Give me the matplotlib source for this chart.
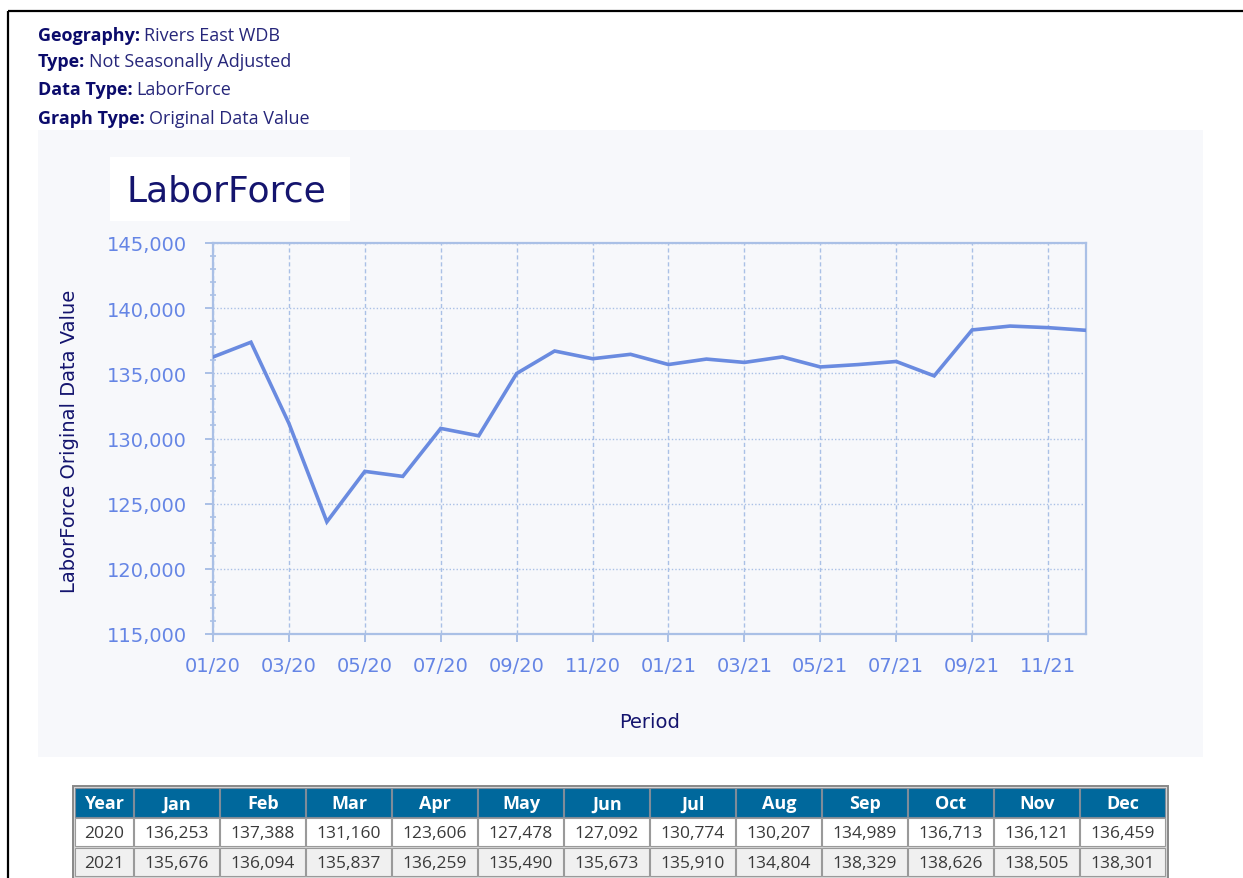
import matplotlib
matplotlib.use("Agg")
import matplotlib.pyplot as plt
from matplotlib.patches import Rectangle
from matplotlib.ticker import MultipleLocator, FuncFormatter

# Header info
header_labels = ["Geography:", "Type:", "Data Type:", "Graph Type:"]
header_values = ["Rivers East WDB", "Not Seasonally Adjusted", "LaborForce", "Original Data Value"]

# Monthly labor force values
months = ["Jan", "Feb", "Mar", "Apr", "May", "Jun", "Jul", "Aug", "Sep", "Oct", "Nov", "Dec"]
years = ["2020", "2021"]
values_2020 = [136253, 137388, 131160, 123606, 127478, 127092, 130774, 130207, 134989, 136713, 136121, 136459]
values_2021 = [135676, 136094, 135837, 136259, 135490, 135673, 135910, 134804, 138329, 138626, 138505, 138301]

W, H = 1243, 879
NAVY = "#14146e"
TICK_BLUE = "#6585e5"
AXIS_BLUE = "#aac0e6"
LINE_BLUE = "#6a8be0"
PANEL_BG = "#f7f8fb"

fig = plt.figure(figsize=(W / 100, H / 100), dpi=100)
fig.patch.set_facecolor("white")

# background axes in pixel coordinates
bg = fig.add_axes([0, 0, 1, 1])
bg.set_xlim(0, W)
bg.set_ylim(H, 0)
bg.axis("off")

# page frame (top and left border)
bg.plot([8, W], [12, 12], color="black", lw=1.6, solid_capstyle="butt")
bg.plot([8, 8], [12, H], color="black", lw=1.6, solid_capstyle="butt")

# header lines: bold label followed by value
fig.canvas.draw()
renderer = fig.canvas.get_renderer()
header_y = [41, 67, 95, 124]
for lab, val, y in zip(header_labels, header_values, header_y):
    t = bg.text(38, y, lab, fontsize=13, fontweight="bold", color="#0b0b6b",
                family="Open Sans", va="baseline", ha="left")
    x_end = t.get_window_extent(renderer=renderer).x1
    bg.text(x_end + 4, y, val, fontsize=13, color="#26267a",
            family="Open Sans", va="baseline", ha="left")

# chart panel background and title box
bg.add_patch(Rectangle((38, 131), 1165, 627, facecolor=PANEL_BG, edgecolor="none"))
bg.add_patch(Rectangle((110, 158), 240, 64, facecolor="white", edgecolor="none"))
bg.text(127, 191, "LaborForce", fontsize=26, color=NAVY, family="DejaVu Sans",
        va="center", ha="left")

# line chart
ax = fig.add_axes([213 / W, 1 - 635 / H, (1086 - 213) / W, (635 - 244) / H])
ax.set_facecolor(PANEL_BG)
series = values_2020 + values_2021
idx = list(range(len(series)))
ax.plot(idx, series, color=LINE_BLUE, lw=2.6, solid_joinstyle="miter", zorder=3)

ax.set_xlim(0, len(series) - 1)
ax.set_ylim(115000, 145000)

tick_labels = [f"{m + 1:02d}/{y[2:]}" for y in years for m in range(12)]
ax.xaxis.set_major_locator(MultipleLocator(2))
ax.xaxis.set_major_formatter(FuncFormatter(
    lambda v, p: tick_labels[int(v)] if 0 <= int(v) < len(tick_labels) else ""))
ax.yaxis.set_major_locator(MultipleLocator(5000))
ax.yaxis.set_minor_locator(MultipleLocator(1000))
ax.yaxis.set_major_formatter(FuncFormatter(lambda v, p: f"{int(v):,}"))

for s in ax.spines.values():
    s.set_color(AXIS_BLUE)
    s.set_linewidth(1.6)

ax.grid(axis="x", which="major", color=AXIS_BLUE, linestyle=(0, (3, 2)), lw=1.0)
ax.grid(axis="y", which="major", color=AXIS_BLUE, linestyle=(0, (1, 1.5)), lw=1.0)

ax.tick_params(axis="both", which="major", colors=AXIS_BLUE, labelcolor=TICK_BLUE,
               labelsize=14, length=6, width=1.4, direction="out")
ax.tick_params(axis="y", which="major", pad=13)
ax.tick_params(axis="x", which="major", pad=10)
ax.tick_params(axis="y", which="minor", colors=AXIS_BLUE, length=4, width=1.2,
               direction="inout")
for lbl in ax.get_xticklabels() + ax.get_yticklabels():
    lbl.set_family("DejaVu Sans")

ax.set_ylabel("LaborForce Original Data Value", fontsize=14, color=NAVY)
ax.yaxis.set_label_coords(-0.154, 0.494)
ax.set_xlabel("Period", fontsize=14, color=NAVY)
ax.xaxis.set_label_coords(0.5006, -0.199)

# data table below chart
tbl_left, year_w, col_w = 75, 59, 86
row_top = [789, 819, 849]
row_h = 29
hdr_color = "#00689c"
row_colors = ["white", "#f0f0f0"]
col_x = [tbl_left] + [tbl_left + year_w + i * col_w for i in range(12)]
col_w_list = [year_w] + [col_w] * 12

# outer border
bg.add_patch(Rectangle((tbl_left - 2, 787), year_w + 12 * col_w + 4, 95,
                       facecolor="#d8d8d8", edgecolor="#888888", lw=1.4, zorder=1))

hdr_cells = ["Year"] + months
rows = [[years[0]] + [f"{v:,}" for v in values_2020],
        [years[1]] + [f"{v:,}" for v in values_2021]]

for c, (x, w) in enumerate(zip(col_x, col_w_list)):
    bg.add_patch(Rectangle((x + 0.5, row_top[0]), w - 1, row_h,
                           facecolor=hdr_color, edgecolor="#7f8c99", lw=0.8, zorder=2))
    bg.text(x + w / 2, row_top[0] + row_h / 2 + 1, hdr_cells[c], color="white",
            fontsize=13, fontweight="bold", family="Open Sans",
            ha="center", va="center", zorder=3)
    for r in range(2):
        y0 = row_top[r + 1]
        bg.add_patch(Rectangle((x + 0.5, y0 + 0.5), w - 1, row_h - 1,
                               facecolor=row_colors[r], edgecolor="#9a9a9a", lw=0.8, zorder=2))
        bg.text(x + w / 2, y0 + row_h / 2 + 1, rows[r][c], color="#3a3a3a",
                fontsize=12.5, family="Open Sans", ha="center", va="center", zorder=3)

fig.savefig("out.png", dpi=100)
